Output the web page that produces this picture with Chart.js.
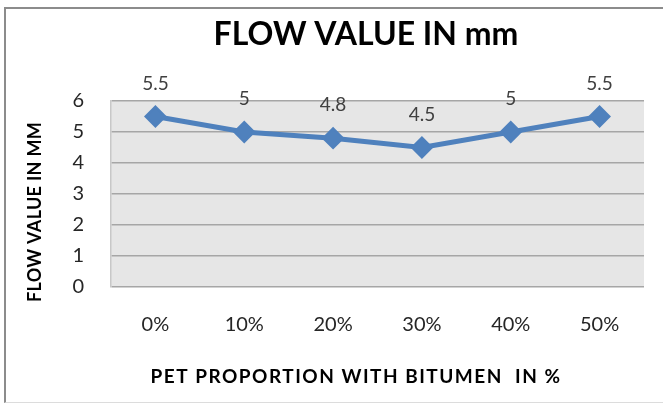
<!DOCTYPE html>
<html>
<head>
<meta charset="utf-8">
<script src="https://cdn.jsdelivr.net/npm/chart.js@4/dist/chart.umd.min.js"></script>
<style>
  html, body { margin: 0; padding: 0; background: #ffffff; }
  #wrap { position: relative; width: 663px; height: 403px; overflow: hidden; }
  #frame {
    position: absolute; left: 4px; top: 7px; width: 720px; height: 393px;
    border-left: 2px solid #8c8c8c; border-top: 2px solid #8c8c8c;
    border-bottom: 1px solid #dcdcdc;
  }
  canvas { position: absolute; left: 0; top: 0; }
</style>
</head>
<body>
<div id="wrap">
  <div id="frame"></div>
  <canvas id="chart" width="663" height="403"></canvas>
</div>
<script>
// Data
const categories = ['0%', '10%', '20%', '30%', '40%', '50%'];
const flowValues = [5.5, 5, 4.8, 4.5, 5, 5.5];
const yTicks = [0, 1, 2, 3, 4, 5, 6];

const chartTitle = 'FLOW VALUE IN mm';
const xTitle = 'PET PROPORTION WITH BITUMEN  IN %';
const yTitle = 'FLOW VALUE IN MM';

const FONT = 'Lato, "Liberation Sans", sans-serif';

// Grey plot area behind the gridlines
const plotBackground = {
  id: 'plotBackground',
  beforeDraw(chart) {
    const { ctx, chartArea: a } = chart;
    ctx.save();
    ctx.fillStyle = '#e6e6e6';
    ctx.fillRect(a.left, a.top, a.right - a.left, a.bottom - a.top);
    ctx.restore();
  }
};

// Value labels above each point
const valueLabels = {
  id: 'valueLabels',
  afterDatasetsDraw(chart) {
    const { ctx } = chart;
    ctx.save();
    ctx.font = '19px ' + FONT;
    ctx.fillStyle = '#404040';
    ctx.textAlign = 'center';
    ctx.textBaseline = 'middle';
    chart.getDatasetMeta(0).data.forEach((pt, i) => {
      ctx.fillText(String(chart.data.datasets[0].data[i]), pt.x, pt.y - 33);
    });
    ctx.restore();
  }
};

// Chart and axis titles
const captions = {
  id: 'captions',
  afterDraw(chart) {
    const { ctx, chartArea: a } = chart;
    ctx.save();
    ctx.fillStyle = '#000000';
    ctx.textAlign = 'center';
    ctx.textBaseline = 'middle';

    ctx.font = 'bold 32px ' + FONT;
    ctx.fillText(chartTitle, 366, 35);

    ctx.font = 'bold 19px ' + FONT;
    ctx.letterSpacing = '1.5px';
    ctx.fillText(xTitle, 356, a.bottom + 90);

    ctx.translate(35, (a.top + a.bottom) / 2 + 18);
    ctx.rotate(-Math.PI / 2);
    ctx.letterSpacing = '0.3px';
    ctx.font = 'bold 18px ' + FONT;
    ctx.fillText(yTitle, 0, 0);
    ctx.restore();
  }
};

new Chart(document.getElementById('chart'), {
  type: 'line',
  data: {
    labels: categories,
    datasets: [{
      data: flowValues,
      borderColor: '#4f81bd',
      backgroundColor: '#4f81bd',
      borderWidth: 5,
      pointStyle: 'rectRot',
      pointRadius: 10,
      pointBorderWidth: 2,
      pointBorderColor: '#4f81bd',
      pointBackgroundColor: '#4f81bd',
      tension: 0,
      clip: false
    }]
  },
  options: {
    responsive: false,
    animation: false,
    layout: { padding: { left: 8, right: 19, top: 101, bottom: 0 } },
    plugins: {
      legend: { display: false },
      title: { display: false },
      tooltip: { enabled: false }
    },
    scales: {
      x: {
        offset: true,
        grid: { display: false, drawTicks: false },
        border: { display: false },
        ticks: {
          padding: 26,
          color: '#262626',
          font: { family: FONT, size: 20 }
        },
        afterFit(scale) { scale.height = 116; }
      },
      y: {
        min: 0,
        max: 6,
        afterBuildTicks(scale) { scale.ticks = yTicks.map(v => ({ value: v })); },
        grid: { color: '#a6a6a6', lineWidth: 1.5, drawTicks: false },
        border: { display: true, color: '#c8c8c8', width: 1.5 },
        ticks: {
          padding: 27,
          color: '#262626',
          font: { family: FONT, size: 20 }
        },
        afterFit(scale) { scale.width = 103; }
      }
    }
  },
  plugins: [plotBackground, valueLabels, captions]
});
</script>
</body>
</html>
